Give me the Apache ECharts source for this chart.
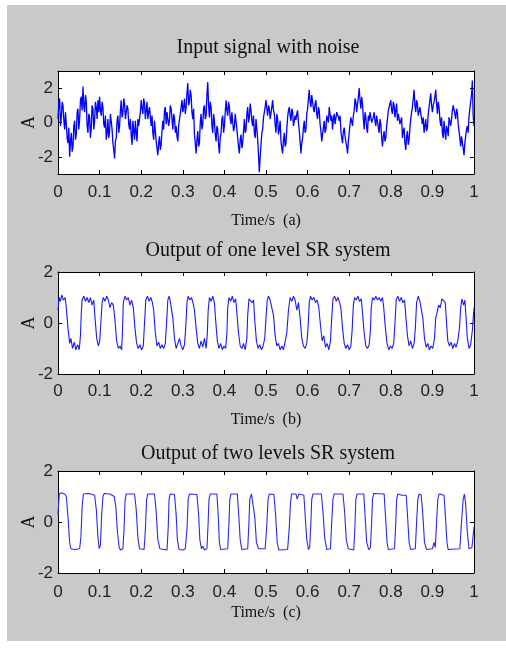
<!DOCTYPE html>
<html>
<head>
<meta charset="utf-8">
<script src="https://cdn.jsdelivr.net/npm/echarts@6/dist/echarts.min.js"></script>
<style>
  html, body { margin: 0; padding: 0; background: #fff; }
  #chart { width: 506px; height: 649px; }
</style>
</head>
<body>
<div id="chart"></div>
<script>
// tick labels
var xTicks = [0, 0.1, 0.2, 0.3, 0.4, 0.5, 0.6, 0.7, 0.8, 0.9, 1];
var yTicks = [-2, 0, 2];
var titles = ['Input signal with noise', 'Output of one level SR system', 'Output of two levels SR system'];
var xNames = ['Time/s  (a)', 'Time/s  (b)', 'Time/s  (c)'];

// input signal, one sample every 0.004 s
var sampleStep = 0.004;
var noiseValues = [
  0.2, 1.4, 0.3, 1.0, -0.4, 0.5, -1.2, -2.0, -0.6, -1.4, 0.1, -0.7, 0.8, 0.2, 1.5, 2.1, 0.6, 1.2, -0.6, 0.3, -0.3, 0.8, 0.1, 0.9, 1.3,
  1.5, 0.4, 0.9, -0.3, -1.0, 0.2, -0.5, 0.6, -1.2, -2.1, -0.9, 0.4, -0.2, 1.3, 0.5, 1.1, 0.3, 0.8, -0.4, -0.8, 0.1, -1.0, -0.6, 0.2, -0.3,
  1.3, 0.5, 1.1, 0.7, 0.2, 0.9, -0.2, -0.6, 0.1, -1.1, -1.9, -0.8, -1.3, 0.1, 0.7, -0.1, 0.5, 0.15, 0.8, -0.4, 0.3, -0.2, -1.1, 0.2, 0.9,
  0.6, 1.4, 0.9, 2.3, 1.2, 1.6, 0.2, -0.7, -1.8, -0.5, -1.2, 0.5, -0.1, 1.0, 0.4, 2.35, 0.3, 0.9, -0.6, 0.1, -1.1, -0.4, -1.8, -0.6, 0.4,
  -0.2, 1.3, 0.4, 0.9, -0.1, 0.5, -0.3, 0.4, -0.9, -1.8, -0.7, -1.2, 0.2, -0.4, 0.9, 0.3, 0.7, -0.2, -0.6, 0.2, -1.0, -2.9, -1.3, -0.4, 0.6,
  1.3, 0.4, 0.8, 0.1, 1.3, 0.5, -0.6, 0.2, -0.4, -1.1, -1.8, -0.6, -1.2, 0.3, 0.9, 0.1, 0.6, -0.3, 0.15, 0.7, -0.5, -1.8, -0.9, 0.1, -0.4,
  0.8, 1.9, 0.9, 1.5, 0.6, 1.3, 0.2, 0.7, -0.5, -1.0, 0.1, -0.4, 0.35, 0.9, 0.1, -0.4, 0.5, -0.2, 0.7, 0.1, -0.5, -1.2, -0.3, -0.9, -1.8,
  -0.6, 0.3, -0.2, 0.7, 1.2, 0.5, 2.0, 0.8, 1.1, -0.4, 0.3, -0.6, 0.1, 0.5, -0.1, 0.6, -0.2, 0.3, -0.6, -0.1, -1.4, -0.5, -0.9, 0.2, 0.8,
  1.3, 0.5, 1.0, 0.7, 0.1, 0.6, -0.2, -0.9, -0.3, -1.6, -0.5, -1.0, 0.2, 0.9, 1.9, 0.6, 1.1, 0.35, 0.8, -0.1, -0.6, 0.2, -0.3, 0.9, 1.7,
  0.6, 1.2, 1.9, 0.5, 0.9, -0.2, -0.6, 0.1, -1.0, -0.4, 0.3, -0.2, 0.7, 1.1, 0.2, 0.6, -0.5, -1.4, -0.7, -1.9, -0.8, -0.2, 0.35, 0.9, 2.45,
  -0.2
];
// samples half way between the ones above
var noiseHalfValues = [
  1.1, -0.2, 1.2, 0.1, 0.6, -0.9, -0.3, -1.1, -1.7, -0.2, -1.0, 0.6, -0.4, 1.3, 0.7, 1.0, 1.6, -0.2, 0.5, -0.9, 1.0, -0.4, 1.2, 0.2, 0.6,
  0.7, 1.2, -0.1, 0.4, -0.6, -0.9, 0.5, -0.4, -1.6, -1.1, 0.1, -0.6, 0.7, 0.3, 1.4, 0.2, 1.0, -0.1, 0.2, -1.3, -0.5, 0.1, -1.1, -0.2, 0.6,
  0.8, 1.4, 0.2, 1.2, 0.6, 0.3, 0.4, -1.0, -0.5, -1.5, -1.2, -1.6, -0.5, -0.4, 0.9, 0.6, -0.2, 1.0, 0.2, 0.5, -0.6, -0.8, -0.2, 0.5, 1.3,
  0.9, 0.5, 1.7, 1.0, 1.9, 0.6, 0.8, -1.2, -1.0, -1.4, 0.0, -0.4, 0.8, 0.2, 1.6, 1.0, 1.2, -0.2, 0.5, -0.7, -0.2, -1.3, -0.9, 0.2, -0.6,
  0.6, 0.7, 1.2, 0.2, 0.6, -0.5, 0.5, -0.4, -1.4, -1.0, -1.5, -0.5, -0.6, 0.5, 0.0, 1.1, 0.1, 0.4, -0.9, -0.4, -1.9, -2.0, -0.6, 0.3, 0.9,
  0.8, 1.0, 0.2, 0.9, 0.7, -0.1, 0.5, -0.7, 0.1, -1.5, -1.0, -1.4, -0.4, 0.7, 0.4, 0.8, -0.2, 0.4, 0.5, 0.0, -1.1, -1.2, -0.3, -0.6, 0.5,
  1.4, 1.2, 1.6, 0.8, 1.1, 0.5, 0.9, -0.1, -1.1, -0.3, -0.6, 0.4, 0.0, 0.5, 0.4, 0.2, -0.1, 0.6, 0.3, 0.4, -0.9, -0.5, -0.8, -1.4, -1.1,
  -0.1, 0.2, 0.4, 1.4, 0.6, 1.5, 1.3, 1.5, 0.2, 0.6, -0.3, 0.4, 0.6, 0.0, 0.3, 0.1, 0.4, -0.3, 0.2, -0.9, -0.8, -1.1, -0.2, 0.7, 1.1,
  0.7, 1.2, 0.3, 1.1, 0.5, -0.1, 0.3, -0.5, -1.2, -0.8, -1.3, -0.3, 0.6, 1.4, 1.0, 1.3, 0.4, 0.9, 0.2, 0.3, -0.2, -0.5, 0.5, 1.3, 1.0,
  1.0, 1.5, 1.1, 1.2, 0.2, 0.3, -0.9, -0.5, -0.2, -0.8, 0.4, 0.2, 1.0, 0.5, 0.8, -0.1, -0.9, -0.8, -1.5, -1.2, -0.4, -0.6, 0.8, 1.6, 0.4
];

// one level SR output [time, amplitude]
var oneLevel = [
  [0,0.5],[0.003,1.0],[0.006,0.85],[0.009,1.1],[0.013,0.9],[0.017,1.0],[0.020,0.6],[0.024,-0.2],[0.028,-0.8],[0.031,-0.6],[0.035,-1.0],[0.039,-0.75],[0.043,-1.05],[0.047,-0.85],[0.051,-1.05],[0.054,-0.5],[0.056,0.4],[0.058,0.9],[0.062,1.05],[0.066,0.85],[0.070,1.0],[0.074,0.8],[0.078,1.0],[0.082,0.7],[0.086,0.9],[0.089,0.2],[0.093,-0.6],[0.097,-0.9],[0.100,-0.75],[0.103,0.0],[0.106,0.8],[0.109,1.0],[0.113,0.85],[0.117,1.05],[0.121,0.9],[0.125,0.6],[0.129,0.8],[0.133,0.7],[0.137,0.1],[0.141,-0.7],[0.145,-1.0],[0.149,-0.9],[0.153,-1.05],[0.155,-0.3],[0.157,0.8],[0.161,1.05],[0.165,0.9],[0.169,1.0],[0.173,0.7],[0.177,0.9],[0.181,0.6],[0.185,-0.2],[0.189,-0.8],[0.193,-1.0],[0.197,-0.85],[0.201,-1.05],[0.205,-0.9],[0.208,0.0],[0.211,0.9],[0.215,1.05],[0.219,0.85],[0.223,1.0],[0.227,0.8],[0.230,0.5],[0.234,-0.4],[0.238,-0.9],[0.242,-0.75],[0.246,-1.0],[0.250,-0.85],[0.254,-1.0],[0.258,-0.8],[0.261,0.0],[0.264,0.9],[0.267,1.05],[0.270,0.85],[0.273,0.9],[0.276,0.2],[0.280,-0.6],[0.284,-1.0],[0.288,-0.8],[0.292,-0.6],[0.296,-0.9],[0.300,-1.05],[0.304,-0.85],[0.307,-0.2],[0.310,0.8],[0.313,1.05],[0.317,0.9],[0.321,1.0],[0.325,0.75],[0.328,0.5],[0.332,-0.2],[0.336,-0.8],[0.340,-1.0],[0.344,-0.7],[0.348,-0.95],[0.352,-0.6],[0.356,-1.0],[0.359,-0.4],[0.361,0.5],[0.364,1.0],[0.368,0.85],[0.372,1.05],[0.376,0.8],[0.379,0.1],[0.383,-0.7],[0.387,-1.0],[0.391,-0.8],[0.395,-1.05],[0.399,-0.9],[0.403,-1.0],[0.406,-0.4],[0.408,0.6],[0.411,1.0],[0.415,0.85],[0.419,1.05],[0.423,0.8],[0.427,0.95],[0.430,0.4],[0.434,-0.4],[0.438,-0.9],[0.442,-1.0],[0.446,-0.8],[0.450,-1.05],[0.454,-0.6],[0.456,0.3],[0.459,0.95],[0.463,1.0],[0.467,0.8],[0.470,0.9],[0.473,0.1],[0.477,-0.7],[0.481,-1.0],[0.485,-0.85],[0.489,-1.05],[0.493,-0.9],[0.497,-0.6],[0.500,0.2],[0.503,0.9],[0.506,1.05],[0.510,0.9],[0.514,0.95],[0.518,0.3],[0.522,-0.5],[0.526,-0.9],[0.530,-0.8],[0.534,-1.05],[0.538,-0.9],[0.542,-1.05],[0.546,-1.1],[0.550,-0.4],[0.554,0.5],[0.558,1.0],[0.562,0.85],[0.566,1.05],[0.570,0.9],[0.574,0.5],[0.578,0.8],[0.582,0.2],[0.586,-0.6],[0.590,-0.9],[0.594,-1.0],[0.598,-0.8],[0.601,-0.2],[0.604,0.8],[0.607,1.05],[0.611,0.9],[0.615,1.0],[0.619,0.8],[0.623,0.9],[0.627,0.6],[0.631,-0.1],[0.635,-0.7],[0.639,-0.5],[0.643,-0.95],[0.647,-0.8],[0.651,-1.05],[0.655,-0.7],[0.658,0.2],[0.661,0.95],[0.665,1.05],[0.669,0.85],[0.673,1.0],[0.677,0.8],[0.680,0.6],[0.684,-0.2],[0.688,-0.8],[0.692,-1.0],[0.696,-0.85],[0.700,-1.05],[0.704,-0.9],[0.707,-0.3],[0.710,0.7],[0.713,1.0],[0.717,0.9],[0.721,1.05],[0.725,0.85],[0.729,0.95],[0.732,0.4],[0.736,-0.4],[0.740,-0.9],[0.744,-1.0],[0.748,-0.85],[0.751,-0.3],[0.753,0.6],[0.756,1.0],[0.760,0.9],[0.764,1.05],[0.768,0.9],[0.772,1.0],[0.776,0.85],[0.780,1.0],[0.783,0.6],[0.787,-0.2],[0.791,-0.8],[0.795,-1.05],[0.799,-0.9],[0.803,-1.0],[0.807,-0.8],[0.810,0.0],[0.813,0.9],[0.817,1.05],[0.821,0.85],[0.825,1.0],[0.829,0.8],[0.833,0.9],[0.836,0.3],[0.840,-0.5],[0.844,-0.9],[0.848,-0.7],[0.852,-1.0],[0.856,-0.8],[0.859,-0.2],[0.862,0.8],[0.866,1.05],[0.870,0.85],[0.874,0.9],[0.877,0.2],[0.881,-0.6],[0.885,-0.95],[0.889,-0.8],[0.893,-1.05],[0.897,-0.9],[0.901,-1.0],[0.905,-0.6],[0.908,0.2],[0.911,0.4],[0.915,0.7],[0.919,0.6],[0.923,0.95],[0.927,1.0],[0.931,0.8],[0.934,0.0],[0.937,-0.7],[0.941,-0.9],[0.945,-0.75],[0.949,-1.0],[0.953,-0.8],[0.957,-0.95],[0.961,-0.7],[0.965,-0.2],[0.968,0.6],[0.971,0.95],[0.975,0.7],[0.978,0.9],[0.981,0.2],[0.984,-0.6],[0.988,-1.0],[0.992,-0.85],[0.996,-0.3],[1.0,0.6]
];

// two levels SR output [time, amplitude]
var twoLevels = [
  [0,0.3],[0.003,1.1],[0.008,1.15],[0.016,1.1],[0.020,1.0],[0.024,0.2],[0.028,-0.8],[0.031,-1.05],[0.040,-1.08],[0.052,-1.05],[0.055,-0.6],[0.058,0.6],[0.061,1.1],[0.075,1.12],[0.088,1.05],[0.092,0.5],[0.096,-0.6],[0.099,-1.05],[0.102,-0.9],[0.105,0.3],[0.108,1.0],[0.111,1.12],[0.125,1.1],[0.135,1.0],[0.139,0.6],[0.143,-0.4],[0.147,-1.0],[0.150,-1.1],[0.156,-1.05],[0.159,-0.2],[0.161,0.8],[0.164,1.1],[0.184,1.1],[0.188,0.5],[0.192,-0.6],[0.196,-1.05],[0.207,-1.08],[0.210,-0.3],[0.213,0.9],[0.216,1.1],[0.232,1.1],[0.236,0.4],[0.240,-0.7],[0.245,-1.05],[0.262,-1.1],[0.265,-0.2],[0.267,0.9],[0.270,1.1],[0.280,1.08],[0.284,0.3],[0.287,-0.7],[0.291,-1.08],[0.300,-1.1],[0.306,-1.05],[0.310,-0.3],[0.313,0.9],[0.316,1.1],[0.334,1.08],[0.338,0.3],[0.341,-0.7],[0.345,-1.05],[0.348,-0.95],[0.352,-1.1],[0.358,-1.05],[0.361,0.0],[0.363,0.9],[0.366,1.1],[0.382,1.1],[0.385,0.3],[0.388,-0.8],[0.391,-1.08],[0.408,-1.05],[0.411,0.0],[0.413,0.9],[0.416,1.1],[0.431,1.1],[0.434,0.4],[0.438,-0.7],[0.442,-1.08],[0.456,-1.05],[0.459,0.0],[0.461,0.9],[0.465,1.1],[0.469,1.05],[0.473,0.2],[0.477,-0.8],[0.482,-1.05],[0.498,-1.05],[0.502,-0.1],[0.505,0.9],[0.508,1.1],[0.519,1.08],[0.523,0.3],[0.527,-0.8],[0.531,-1.1],[0.552,-1.08],[0.556,-0.2],[0.559,0.8],[0.562,1.1],[0.572,1.1],[0.575,0.9],[0.579,1.1],[0.591,1.05],[0.594,0.3],[0.598,-0.7],[0.602,-1.08],[0.605,-1.0],[0.608,0.0],[0.610,0.9],[0.613,1.1],[0.633,1.1],[0.637,0.4],[0.641,-0.6],[0.646,-1.08],[0.655,-1.05],[0.658,0.0],[0.661,0.9],[0.664,1.1],[0.685,1.1],[0.689,0.4],[0.693,-0.7],[0.698,-1.05],[0.711,-1.1],[0.714,-0.1],[0.716,0.9],[0.719,1.1],[0.735,1.1],[0.738,0.3],[0.742,-0.8],[0.747,-1.08],[0.751,-1.0],[0.754,0.0],[0.756,0.9],[0.759,1.12],[0.784,1.1],[0.787,0.3],[0.791,-0.8],[0.794,-1.08],[0.809,-1.05],[0.812,0.0],[0.814,0.9],[0.817,1.1],[0.826,1.05],[0.830,1.12],[0.837,1.05],[0.840,0.3],[0.844,-0.8],[0.848,-1.08],[0.859,-1.05],[0.862,0.0],[0.865,0.9],[0.868,1.1],[0.873,1.05],[0.877,0.3],[0.881,-0.8],[0.886,-1.08],[0.900,-1.05],[0.904,-0.8],[0.907,-1.0],[0.910,0.0],[0.913,0.9],[0.916,1.1],[0.928,1.05],[0.931,0.3],[0.935,-0.8],[0.938,-1.08],[0.966,-1.05],[0.970,0.0],[0.974,0.9],[0.977,1.1],[0.980,0.7],[0.984,-0.4],[0.988,-1.05],[0.995,-1.0],[1.0,-0.2]
];

var noiseData = [];
noiseValues.forEach(function (v, i) {
  noiseData.push([i * sampleStep, v]);
  if (i < noiseHalfValues.length) {
    noiseData.push([i * sampleStep + sampleStep / 2, noiseHalfValues[i]]);
  }
});

var chart = echarts.init(document.getElementById('chart'), null, { renderer: 'canvas' });

var numFont = '"Liberation Sans", Arial, sans-serif';
var serifFont = '"Liberation Serif", "DejaVu Serif", serif';

var grids = [
  { left: 58, top: 71, width: 416, height: 103 },
  { left: 58, top: 272, width: 416, height: 102 },
  { left: 58, top: 471, width: 416, height: 102 }
];
var yRanges = [[-3, 3], [-2, 2], [-2, 2]];
var titleTops = [38, 241, 444];
var nameGaps = [39, 38, 32];
var labelGaps = [10, 9, 11];

var xAxes = [], yAxes = [], titleList = [];
grids.forEach(function (g, i) {
  titleList.push({
    text: titles[i],
    left: 268, top: titleTops[i], textAlign: 'center', padding: 0,
    textStyle: { fontFamily: serifFont, fontSize: 20, fontWeight: 'normal', color: '#111' }
  });
  // bottom axis with labels
  xAxes.push({
    type: 'value', gridIndex: i, min: 0, max: 1, position: 'bottom',
    name: xNames[i], nameLocation: 'middle', nameGap: nameGaps[i],
    nameTextStyle: { fontFamily: serifFont, fontSize: 16, color: '#111' },
    axisLine: { onZero: false, lineStyle: { color: '#000', width: 1 } },
    axisTick: { inside: true, length: 4, customValues: xTicks, lineStyle: { color: '#000' } },
    axisLabel: { customValues: xTicks, margin: labelGaps[i], fontFamily: numFont, fontSize: 17, color: '#222' },
    splitLine: { show: false }
  });
  // top box edge
  xAxes.push({
    type: 'value', gridIndex: i, min: 0, max: 1, position: 'top',
    axisLine: { onZero: false, lineStyle: { color: '#000', width: 1 } },
    axisTick: { inside: true, length: 4, customValues: xTicks, lineStyle: { color: '#000' } },
    axisLabel: { show: false },
    splitLine: { show: false }
  });
  yAxes.push({
    type: 'value', gridIndex: i, min: yRanges[i][0], max: yRanges[i][1], position: 'left',
    name: 'A', nameLocation: 'middle', nameGap: 20, nameMoveOverlap: false,
    nameTextStyle: { fontFamily: serifFont, fontSize: 18, color: '#111' },
    axisLine: { onZero: false, lineStyle: { color: '#000', width: 1 } },
    axisTick: { inside: true, length: 4, customValues: yTicks, lineStyle: { color: '#000' } },
    axisLabel: { customValues: yTicks, margin: 5, fontFamily: numFont, fontSize: 17, color: '#222' },
    splitLine: { show: false }
  });
  yAxes.push({
    type: 'value', gridIndex: i, min: yRanges[i][0], max: yRanges[i][1], position: 'right',
    axisLine: { onZero: false, lineStyle: { color: '#000', width: 1 } },
    axisTick: { inside: true, length: 4, customValues: yTicks, lineStyle: { color: '#000' } },
    axisLabel: { show: false },
    splitLine: { show: false }
  });
});

var option = {
  animation: false,
  backgroundColor: '#fff',
  graphic: [{
    type: 'rect', z: -10, silent: true,
    shape: { x: 7, y: 5, width: 499, height: 636 },
    style: { fill: '#c9c9c9' }
  }].concat(grids.map(function (g) {
    return {
      type: 'rect', z: -5, silent: true,
      shape: { x: g.left, y: g.top, width: g.width, height: g.height },
      style: { fill: '#fff' }
    };
  })),
  title: titleList,
  grid: grids,
  xAxis: xAxes,
  yAxis: yAxes,
  series: [
    {
      type: 'line', xAxisIndex: 0, yAxisIndex: 0, data: noiseData,
      showSymbol: false, sampling: null, lineStyle: { color: '#0000ff', width: 1.3 }
    },
    {
      type: 'line', xAxisIndex: 2, yAxisIndex: 2, data: oneLevel,
      showSymbol: false, lineStyle: { color: '#1a1aff', width: 1.1 }
    },
    {
      type: 'line', xAxisIndex: 4, yAxisIndex: 4, data: twoLevels,
      showSymbol: false, lineStyle: { color: '#2a2aee', width: 1.1 }
    }
  ]
};

chart.setOption(option);
</script>
</body>
</html>
